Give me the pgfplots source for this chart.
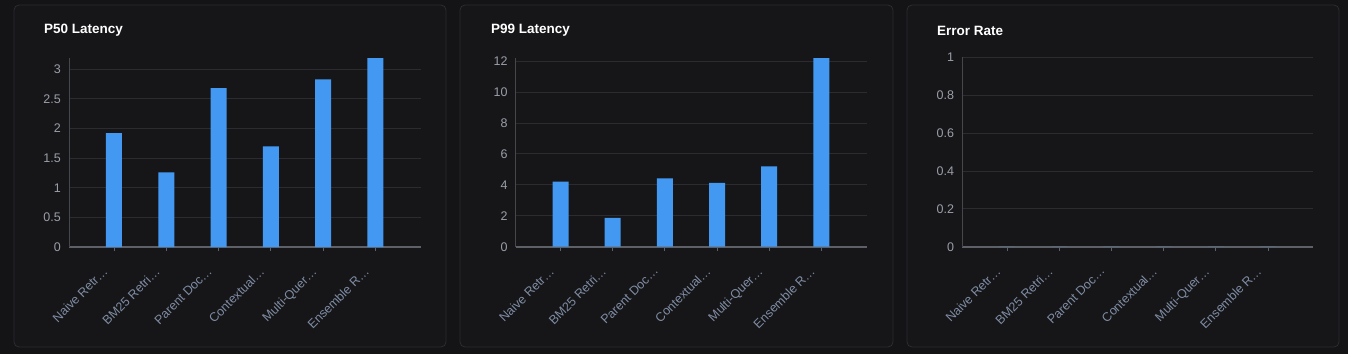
\documentclass[border=0pt]{standalone}
\usepackage{pgfplots}
\pgfplotsset{compat=1.18}
\usepackage{fontspec}
\setmainfont{Liberation Sans}

\definecolor{pagebg}{HTML}{141416}
\definecolor{panelbg}{HTML}{161619}
\definecolor{panelline}{HTML}{2C2C31}
\definecolor{gridc}{HTML}{2B2B30}
\definecolor{xaxisc}{HTML}{5E6068}
\definecolor{yaxisc}{HTML}{46474D}
\definecolor{ylab}{HTML}{9A9EA8}
\definecolor{xlab}{HTML}{7F8DA4}
\definecolor{barc}{HTML}{4399F2}

% latency per retriever
\pgfplotstableread{
x  p50   p99   err
0  1.92  4.20  0
1  1.26  1.86  0
2  2.68  4.42  0
3  1.70  4.12  0
4  2.83  5.20  0
5  3.19  12.20 0
}\retrievers

\pgfplotsset{
  panel/.style={
    scale only axis, width=351pt, height=189pt, anchor=south west,
    ymin=0, xmin=-0.86, xmax=5.87,
    axis x line*=bottom, axis y line*=left,
    x axis line style={xaxisc, line width=1.6pt},
    y axis line style={yaxisc, line width=0.8pt},
    ybar, bar width=16pt,
    xtick={0,...,5},
    xticklabels={Naive Retr…, BM25 Retri…, Parent Doc…, Contextual…, Multi-Quer…, Ensemble R…},
    xtick style={draw=xaxisc, line width=0.8pt},
    major tick length=4pt, tick align=outside,
    ytick style={draw=none},
    ymajorgrids, grid style={gridc, line width=0.8pt},
    tick label style={font=\fontsize{12.5}{14}\selectfont},
    yticklabel style={ylab, inner sep=2pt, xshift=-2pt},
    xticklabel style={xlab, rotate=45, anchor=north east, inner sep=1pt,
                      xshift=-18pt, yshift=-1pt},
    /pgf/number format/assume math mode=true,
  },
  barplot/.style={fill=barc, draw=none},
}

\begin{document}
\begin{tikzpicture}[x=1pt, y=1pt]
  \fill[pagebg] (0,0) rectangle (1348,354);
  \foreach \xa/\xb in {14/446, 460/893, 907/1339}
    \draw[panelline, fill=panelbg, rounded corners=5pt, line width=0.8pt] (\xa,7) rectangle (\xb,349);

  \node[anchor=west, inner sep=0pt, text=white, font=\fontsize{13.5}{15}\selectfont\bfseries] at (44,323.5) {P50 Latency};
  \node[anchor=west, inner sep=0pt, text=white, font=\fontsize{13.5}{15}\selectfont\bfseries] at (491,323.5) {P99 Latency};
  \node[anchor=west, inner sep=0pt, text=white, font=\fontsize{13.5}{15}\selectfont\bfseries] at (937,323.5) {Error Rate};

  \begin{axis}[panel, at={(69pt,107pt)}, width=352pt, height=189pt, ymax=3.19,
               ytick={0,0.5,1,1.5,2,2.5,3}]
    \addplot[barplot] table[x=x, y=p50] {\retrievers};
  \end{axis}

  \begin{axis}[panel, at={(515.7pt,107.3pt)}, height=188.4pt, ymax=12.18,
               ytick={0,2,4,6,8,10,12}]
    \addplot[barplot] table[x=x, y=p99] {\retrievers};
  \end{axis}

  \begin{axis}[panel, at={(962.3pt,107.3pt)}, height=189.4pt, ymax=1,
               ytick={0,0.2,0.4,0.6,0.8,1}]
    \addplot[barplot] table[x=x, y=err] {\retrievers};
  \end{axis}
\end{tikzpicture}
\end{document}
